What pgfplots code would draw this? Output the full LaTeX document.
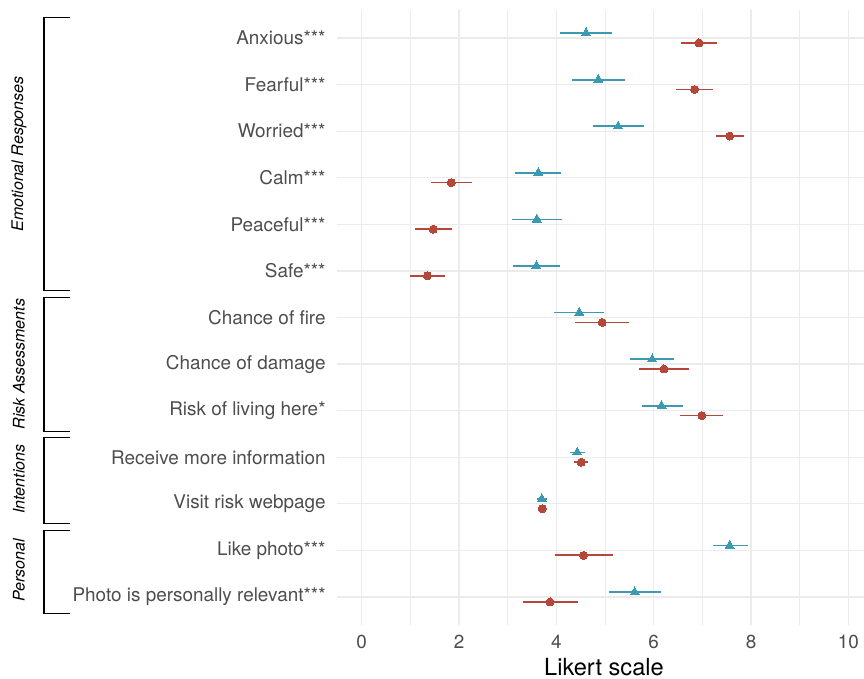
\documentclass[border=0pt]{standalone}
\usepackage{fontspec}
\setmainfont{TeX Gyre Heros}
\usepackage{pgfplots}
\pgfplotsset{compat=1.18}
\usepackage{pgfplotstable}
\definecolor{tealb}{HTML}{3B9AB2}
\definecolor{redc}{HTML}{B5473A}
\definecolor{gridc}{HTML}{EBEBEB}
\definecolor{tickc}{HTML}{4D4D4D}

\pgfplotstableread{
row x lo hi
1 4.61 4.08 5.14
2 4.86 4.32 5.41
3 5.27 4.76 5.80
4 3.63 3.16 4.10
5 3.60 3.09 4.12
6 3.59 3.11 4.08
7 4.47 3.96 4.98
8 5.97 5.52 6.42
9 6.16 5.75 6.60
10 4.43 4.27 4.59
11 3.70 3.60 3.81
12 7.56 7.21 7.93
13 5.61 5.09 6.14
}\bluedata

\pgfplotstableread{
row x lo hi
1 6.93 6.57 7.29
2 6.84 6.46 7.21
3 7.56 7.27 7.86
4 1.84 1.42 2.26
5 1.47 1.09 1.85
6 1.35 1.00 1.71
7 4.94 4.38 5.49
8 6.21 5.70 6.73
9 6.99 6.55 7.42
10 4.51 4.37 4.66
11 3.71 3.66 3.77
12 4.56 3.97 5.16
13 3.87 3.31 4.45
}\reddata

\newcommand{\bracket}[2]{%
  \draw[line width=0.6pt, black] ([xshift=-133.5pt]axis cs:-0.507,#1) -- ([xshift=-146.5pt]axis cs:-0.507,#1)
     -- ([xshift=-146.5pt]axis cs:-0.507,#2) -- ([xshift=-133.5pt]axis cs:-0.507,#2);}

\begin{document}
\begin{tikzpicture}
\begin{axis}[
  name=ax, at={(0,0)}, anchor=south west,
  width=263.5pt, height=307.5pt, scale only axis,
  xmin=-0.507, xmax=10.32, ymin=0.4, ymax=13.6, y dir=reverse,
  xtick={0,2,...,10}, minor xtick={1,3,...,9},
  ytick={1,...,13}, minor ytick={},
  yticklabels={Anxious***, Fearful***, Worried***, Calm***, Peaceful***, Safe***,
    Chance of fire, Chance of damage, Risk of living here*, Receive more information,
    Visit risk webpage, Like photo***, Photo is personally relevant***},
  xmajorgrids, xminorgrids, ymajorgrids,
  major grid style={gridc, line width=0.6pt},
  minor grid style={gridc, line width=0.4pt},
  axis line style={draw=none},
  major tick length=0pt, minor tick length=0pt,
  tick label style={font=\fontsize{9.45}{11}\selectfont, text=tickc},
  /pgf/number format/assume math mode=true,
  yticklabel style={inner sep=0pt, xshift=-5.5pt, anchor=east},
  xticklabel style={inner sep=0pt, yshift=-5pt, anchor=north},
  xlabel={Likert scale},
  every axis x label/.style={at={(axis description cs:0.5066,0)}, anchor=north, yshift=-16.5pt, inner sep=0pt, font=\fontsize{11.8}{13}\selectfont},
  clip=false,
]
\addplot[only marks, color=tealb, mark=triangle*, mark size=2.6pt,
  mark options={fill=tealb, draw=tealb, line width=0pt},
  error bars/.cd, x dir=both, x explicit, error mark=none,
  error bar style={line width=0.85pt, tealb}]
  table[x=x, y expr=\thisrow{row}-0.105,
    x error plus expr=\thisrow{hi}-\thisrow{x},
    x error minus expr=\thisrow{x}-\thisrow{lo}] {\bluedata};
\addplot[only marks, color=redc, mark=*, mark size=2pt,
  mark options={fill=redc, draw=redc, line width=0pt},
  error bars/.cd, x dir=both, x explicit, error mark=none,
  error bar style={line width=0.85pt, redc}]
  table[x=x, y expr=\thisrow{row}+0.105,
    x error plus expr=\thisrow{hi}-\thisrow{x},
    x error minus expr=\thisrow{x}-\thisrow{lo}] {\reddata};

\bracket{0.556}{6.417}
\bracket{6.567}{9.444}
\bracket{9.57}{11.42}
\bracket{11.57}{13.35}
\begin{scope}[every node/.style={rotate=90, font=\fontsize{8}{10}\selectfont\itshape, text=black}]
\node at ([xshift=-159pt]axis cs:-0.507,3.49) {Emotional Responses};
\node at ([xshift=-159pt]axis cs:-0.507,8.0) {Risk Assessments};
\node at ([xshift=-159pt]axis cs:-0.507,10.47) {Intentions};
\node at ([xshift=-159pt]axis cs:-0.507,12.42) {Personal};
\end{scope}
\end{axis}
\pgfresetboundingbox
\path[use as bounding box] (-168.5pt,-27pt) rectangle (263.5pt,312.5pt);
\end{tikzpicture}
\end{document}
